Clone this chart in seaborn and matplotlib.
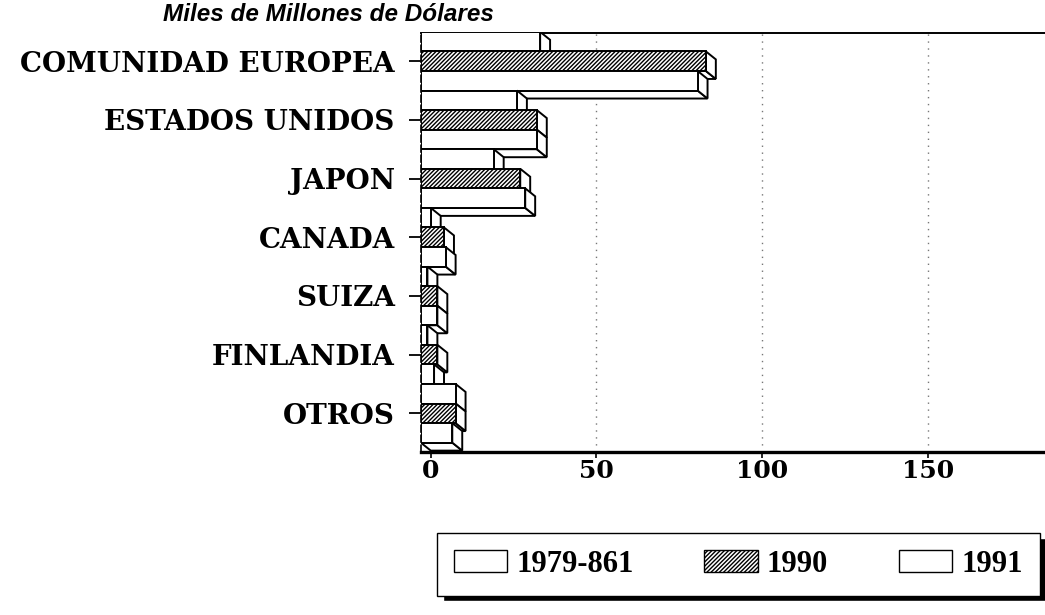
"""Exportaciones por destino - barras horizontales con efecto 3D"""

import matplotlib

matplotlib.use("Agg")
import matplotlib.pyplot as plt
import numpy as np
import pandas as pd
import seaborn as sns
from matplotlib.patches import Patch, Polygon, Rectangle

regions = [
    "COMUNIDAD EUROPEA",
    "ESTADOS UNIDOS",
    "JAPON",
    "CANADA",
    "SUIZA",
    "FINLANDIA",
    "OTROS",
]
periods = ["1979-861", "1990", "1991"]
values_7986 = [36, 29, 22, 3, 2, 2, 10.5]
values_1990 = [86, 35, 30, 7, 5, 5, 10.5]
values_1991 = [83.5, 35, 31.5, 7.5, 5, 4, 9.5]
x_ticks = [0, 50, 100, 150]

df = pd.DataFrame(
    {
        "region": regions * 3,
        "period": np.repeat(periods, len(regions)),
        "value": values_7986 + values_1990 + values_1991,
    }
)

sns.set_style("white")
plt.rcParams.update({
    "text.color": "black",
    "axes.labelcolor": "black",
    "xtick.color": "black",
    "ytick.color": "black",
    "hatch.linewidth": 1.0,
})
serif = ["DejaVu Serif"]
legend_serif = ["Liberation Serif", "DejaVu Serif"]
sans = ["Liberation Sans", "DejaVu Sans"]

fig = plt.figure(figsize=(10.45, 6.15), dpi=100)
ax = fig.add_axes([0.403, 0.265, 0.597, 0.681])

sns.barplot(
    data=df,
    y="region",
    x="value",
    hue="period",
    hue_order=periods,
    order=regions,
    orient="h",
    palette=["white"] * 3,
    saturation=1,
    edgecolor="black",
    linewidth=1.4,
    width=1.0,
    legend=False,
    ax=ax,
)

hatches = ["", "////////", ""]
for cont, h in zip(ax.containers, hatches):
    for p in cont.patches:
        p.set_hatch(h)

# 3D look: front face shifted left by the depth, side and underside faces
dx, dy = 3.0, 0.136
bars = sorted(ax.patches, key=lambda p: p.get_y())
for i, p in enumerate(bars):
    v = p.get_width()
    y0 = p.get_y()
    y1 = y0 + p.get_height()
    p.set_x(-dx)
    z = 3 + i * 0.01
    p.set_zorder(z + 0.005)
    side = Polygon(
        [(v - dx, y0), (v, y0 + dy), (v, y1 + dy), (v - dx, y1)],
        closed=True, facecolor="white", edgecolor="black", linewidth=1.4, zorder=z,
    )
    under = Polygon(
        [(-dx, y1), (v - dx, y1), (v, y1 + dy), (0, y1 + dy)],
        closed=True, facecolor="white", edgecolor="black", linewidth=1.4, zorder=z,
    )
    ax.add_patch(under)
    ax.add_patch(side)

ax.set_xlim(-2.9, 185.3)
ax.set_ylim(6.66, -0.477)
ax.set_xticks(x_ticks)
ax.set_xticklabels([str(t) for t in x_ticks], family=serif, fontweight="bold", fontsize=18)
ax.set_yticks(range(len(regions)))
ax.set_yticklabels(regions, family=serif, fontweight="bold", fontsize=20)
ax.tick_params(axis="y", length=9, width=1.3, pad=10, left=True)
ax.tick_params(axis="x", length=4, width=1.2, pad=1, bottom=True)
ax.set_xlabel("")
ax.set_ylabel("")

ax.grid(axis="x", linestyle=(0, (1, 4)), color="#777777", linewidth=1.0)
ax.set_axisbelow(True)
for s in ["top", "bottom", "left"]:
    ax.spines[s].set_visible(True)
    ax.spines[s].set_color("black")
ax.spines["top"].set_linewidth(1.4)
ax.spines["bottom"].set_linewidth(2.4)
ax.spines["left"].set_linewidth(1.2)
ax.spines["left"].set_linestyle((0, (4, 2)))
ax.spines["right"].set_visible(False)

fig.text(0.156, 0.977, "Miles de Millones de Dólares", family=sans,
         fontstyle="italic", fontweight="bold", fontsize=17.5, va="center")

handles = [
    Patch(facecolor="white", edgecolor="black", hatch=h, linewidth=1.0)
    for h in hatches
]
leg = fig.legend(
    handles, periods, loc="center", mode="expand",
    bbox_to_anchor=(0.418, 0.024, 0.577, 0.117), ncol=3,
    frameon=True, fancybox=False, framealpha=1, facecolor="white",
    handlelength=1.75, handleheight=0.7, handletextpad=0.3,
    columnspacing=1.7, borderpad=0.55, borderaxespad=0,
    prop={"family": legend_serif, "weight": "bold", "size": 22},
)
leg.get_frame().set_edgecolor("black")
leg.get_frame().set_linewidth(1.0)
leg.set_zorder(5)

fig.canvas.draw()
bb = leg.get_window_extent().transformed(fig.transFigure.inverted())
fig.patches.append(
    Rectangle((bb.x0 + 0.006, bb.y0 - 0.009), bb.width, bb.height,
              transform=fig.transFigure, facecolor="black", zorder=1)
)

fig.savefig("out.png", dpi=100)
